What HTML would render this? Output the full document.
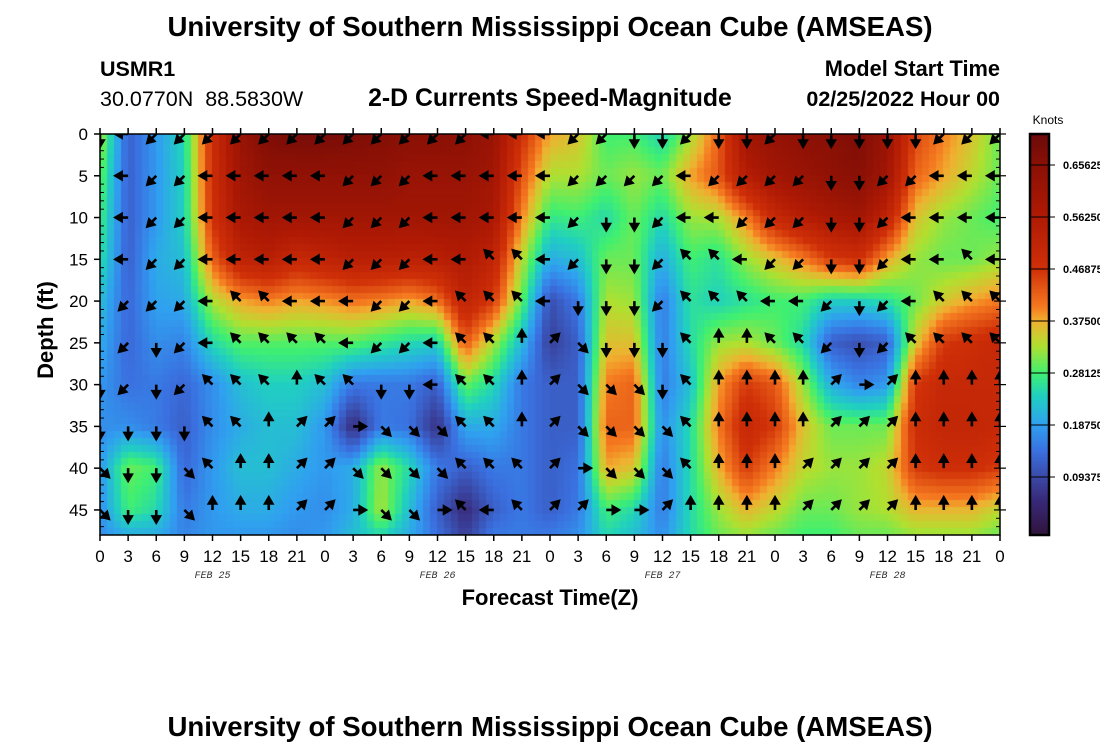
<!DOCTYPE html>
<html><head><meta charset="utf-8"><style>
body{margin:0;background:#fff;width:1100px;height:750px;overflow:hidden;font-family:"Liberation Sans",sans-serif}
svg{position:absolute;left:0;top:0}
canvas{position:absolute;left:0;top:0}
</style></head><body>
<canvas id="cv" width="1100" height="750"></canvas>
<svg id="sv" width="1100" height="750">
<text x="550" y="36" text-anchor="middle" font-size="27.6" font-weight="bold">University of Southern Mississippi Ocean Cube (AMSEAS)</text>
<text x="100" y="76" font-size="21.5" font-weight="bold">USMR1</text>
<text x="100" y="106" font-size="21.5">30.0770N&#160;&#160;88.5830W</text>
<text x="550" y="106" text-anchor="middle" font-size="24.8" font-weight="bold">2-D Currents Speed-Magnitude</text>
<text x="1000" y="76" text-anchor="end" font-size="21.8" font-weight="bold">Model Start Time</text>
<text x="1000" y="106" text-anchor="end" font-size="21.5" font-weight="bold">02/25/2022 Hour 00</text>
<text x="550" y="736" text-anchor="middle" font-size="27.6" font-weight="bold">University of Southern Mississippi Ocean Cube (AMSEAS)</text>
<text x="550" y="605" text-anchor="middle" font-size="22" font-weight="bold">Forecast Time(Z)</text>
<text transform="translate(53,330) rotate(-90)" text-anchor="middle" font-size="22" font-weight="bold">Depth (ft)</text>
<text x="1048" y="124" text-anchor="middle" font-size="12">Knots</text>
<defs><clipPath id="pc"><rect x="100" y="134" width="900" height="401"/></clipPath></defs>
<g id="arrows" clip-path="url(#pc)"></g>
<g id="axes"></g>
</svg>
<script>
const depths=[0,5,10,15,20,25,30,35,40,45,48];
const hours=[0,3,6,9,12,15,18,21,24,27,30,33,36,39,42,45,48,51,54,57,60,63,66,69,72,75,78,81,84,87,90,93,96];
const hourLabels=["0","3","6","9","12","15","18","21"];
const dayLabels=["FEB 25","FEB 26","FEB 27","FEB 28"];
const colorTicks=[0.09375,0.1875,0.28125,0.375,0.46875,0.5625,0.65625];
const speedD0=[.33,.12,.18,.25,.48,.62,.68,.69,.69,.68,.67,.66,.66,.65,.62,.48,.38,.36,.28,.28,.24,.32,.42,.6,.63,.65,.66,.68,.62,.45,.4,.36,.3];
const speedD5=[.3,.12,.18,.24,.48,.6,.64,.64,.64,.64,.64,.62,.62,.62,.6,.44,.33,.33,.3,.32,.3,.38,.43,.55,.6,.62,.64,.66,.6,.42,.38,.34,.3];
const speedD10=[.28,.12,.18,.24,.47,.58,.6,.6,.6,.6,.6,.6,.6,.6,.58,.4,.27,.28,.25,.3,.25,.32,.33,.4,.5,.55,.58,.6,.52,.36,.32,.3,.28];
const speedD15=[.26,.12,.2,.22,.42,.52,.54,.5,.52,.54,.54,.53,.54,.56,.52,.34,.2,.22,.3,.3,.2,.28,.26,.32,.36,.4,.46,.48,.38,.32,.3,.3,.32];
const speedD20=[.22,.13,.19,.2,.33,.38,.4,.38,.39,.41,.4,.38,.41,.52,.46,.3,.1,.15,.33,.32,.15,.26,.24,.26,.28,.28,.24,.24,.26,.3,.35,.38,.4];
const speedD25=[.2,.13,.17,.16,.25,.29,.29,.29,.29,.29,.27,.25,.24,.43,.33,.22,.08,.12,.36,.36,.15,.25,.32,.33,.3,.25,.12,.1,.12,.35,.46,.48,.5];
const speedD30=[.18,.14,.15,.13,.17,.22,.24,.24,.22,.15,.15,.15,.12,.3,.25,.15,.12,.12,.4,.42,.15,.22,.38,.46,.43,.32,.2,.16,.18,.46,.5,.5,.5];
const speedD35=[.17,.17,.15,.12,.17,.2,.22,.22,.18,.05,.15,.14,.06,.2,.2,.15,.12,.12,.42,.42,.17,.25,.4,.5,.46,.36,.3,.3,.3,.48,.51,.51,.5];
const speedD40=[.18,.3,.28,.13,.18,.22,.22,.2,.18,.2,.32,.25,.15,.12,.15,.15,.12,.14,.38,.36,.15,.25,.37,.46,.4,.34,.32,.32,.34,.46,.48,.48,.46];
const speedD45=[.17,.28,.25,.15,.18,.2,.2,.18,.17,.2,.33,.22,.12,.05,.12,.15,.12,.15,.28,.25,.15,.25,.32,.37,.34,.3,.3,.32,.33,.37,.37,.37,.34];
const speedD48=[.17,.2,.2,.16,.18,.18,.18,.17,.18,.22,.25,.2,.14,.08,.15,.15,.15,.17,.25,.22,.17,.25,.3,.32,.3,.28,.28,.3,.3,.32,.32,.32,.3];
const arrowDepths=[0,5,10,15,20,25,30,35,40,45];
const dirD0="S W SW SW SW SW SW SW SW SW SW SW SW SW W W W SW SW S S SW S S SW S S S S S SW SW SW".split(" ");
const dirD5="W W SW SW W W W W W SW SW SW W W W W W SW SW SW SW W SW SW SW SW S S SW SW W W W".split(" ");
const dirD10="W W SW SW W W W W W SW SW SW W W W W W SW S S SW W W SW SW SW S S SW W W W W".split(" ");
const dirD15="W W SW SW W W W W W SW SW SW W W NW NW W SW S S SW NW NW W SW SW S S SW W W NW W".split(" ");
const dirD20="SW SW SW SW W NW NW W W W SW SW W NW NW NW W S S S SW NW NW NW W W SW S SW W NW NW NW".split(" ");
const dirD25="SW SW S SW W NW NW NW NW W SW SW W NW NW N NE SE S S S NW N N NW NW SW S SW NW NW NW NW".split(" ");
const dirD30="S SW S SW NW NW NW N NW NW S S W NW NW N NE SE SE SE S NW N N N N NE E NE N N N N".split(" ");
const dirD35="S S S S NW NW N NE NE E SE SE SE NW NW N NE SE SE SE SE NW N N N N NE NE NE N N N N".split(" ");
const dirD40="SE S S SE NW N N NE NE SE SE SE SE NW NW NW NE E SE SE SE NW N N N NE NE NE NE N N N N".split(" ");
const dirD45="SE S S SE N N N NE NE E SE SE E NW W NW NE NE E E NE N N N N NE NE NE NE N N N N".split(" ");

const speedRows=[speedD0,speedD5,speedD10,speedD15,speedD20,speedD25,speedD30,speedD35,speedD40,speedD45,speedD48];
const dirRows=[dirD0,dirD5,dirD10,dirD15,dirD20,dirD25,dirD30,dirD35,dirD40,dirD45];
const X0=100,X1=1000,Y0=134,Y1=535,DMAX=48,HMAX=96;
function xs(h){return X0+(X1-X0)*h/HMAX;}
function ys(d){return Y0+(Y1-Y0)*d/DMAX;}
function cy(v){return 529-v*554.7;}
const stopV=[-0.011,0.05,0.09375,0.14,0.1875,0.24,0.28125,0.33,0.375,0.40,0.46875,0.5625,0.65625,0.714];
const stopC=[[48,20,60],[56,40,120],[58,74,168],[58,112,224],[48,160,240],[32,208,192],[64,240,112],[176,224,48],[240,176,48],[245,122,32],[208,48,8],[176,26,4],[138,16,5],[106,10,10]];
function col(v){v=Math.max(stopV[0],Math.min(stopV[stopV.length-1],v));
 let i=0;while(i<stopV.length-2&&v>stopV[i+1])i++;
 const f=(v-stopV[i])/(stopV[i+1]-stopV[i]);const a=stopC[i],b=stopC[i+1];
 return `rgb(${Math.round(a[0]+(b[0]-a[0])*f)},${Math.round(a[1]+(b[1]-a[1])*f)},${Math.round(a[2]+(b[2]-a[2])*f)})`;}
function idx(arr,v){for(let i=0;i<arr.length-1;i++){if(v<=arr[i+1])return [i,(v-arr[i])/(arr[i+1]-arr[i])];}return [arr.length-2,1];}
function sample(h,d){const [i,fi]=idx(hours,h),[j,fj]=idx(depths,d);
 const a=speedRows[j][i],b=speedRows[j][i+1],c=speedRows[j+1][i],e=speedRows[j+1][i+1];
 return (a*(1-fi)+b*fi)*(1-fj)+(c*(1-fi)+e*fi)*fj;}
const ctx=document.getElementById('cv').getContext('2d');
const nx=128,ny=58;
for(let i=0;i<nx;i++)for(let j=0;j<ny;j++){
 const h=(i+0.5)/nx*HMAX,d=(j+0.5)/ny*DMAX;
 ctx.fillStyle=col(sample(h,d));
 const xa=Math.floor(xs(i/nx*HMAX)),xb=Math.ceil(xs((i+1)/nx*HMAX));
 const ya=Math.floor(ys(j/ny*DMAX)),yb=Math.ceil(ys((j+1)/ny*DMAX));
 ctx.fillRect(xa,ya,xb-xa,yb-ya);}
for(let y=134;y<535;y++){ctx.fillStyle=col((529-y-0.5)/554.7);ctx.fillRect(1030,y,19,1);}
const NS="http://www.w3.org/2000/svg";
function mk(tag,attrs,parent){const e=document.createElementNS(NS,tag);for(const k in attrs)e.setAttribute(k,attrs[k]);parent.appendChild(e);return e;}
const ang={N:0,NE:45,E:90,SE:135,S:180,SW:225,W:270,NW:315};
const ag=document.getElementById('arrows');
dirRows.forEach((row,j)=>{row.forEach((dname,i)=>{
 const p=mk('path',{d:"M0,0 L0,-7 M-3.5,-6.5 L0,-12.5 L3.5,-6.5 Z",stroke:"#000","stroke-width":"2.6",fill:"#000","stroke-linejoin":"miter",
  transform:`translate(${xs(hours[i])},${ys(arrowDepths[j])}) rotate(${ang[dname]})`},ag);
 
 
});});
const ax=document.getElementById('axes');
const frame=mk('rect',{x:X0,y:Y0,width:X1-X0,height:Y1-Y0,fill:"none",stroke:"#000","stroke-width":"1.5"},ax);


hours.forEach((h,i)=>{const x=xs(h);
 mk('line',{x1:x,x2:x,y1:Y1,y2:Y1+6,stroke:"#000","stroke-width":"1.5"},ax);
 mk('line',{x1:x,x2:x,y1:Y0,y2:Y0-6,stroke:"#000","stroke-width":"1.5"},ax);
 const t=mk('text',{x:x,y:562,"text-anchor":"middle","font-size":"17"},ax);
 t.textContent=hourLabels[i%8];
 
 });
dayLabels.forEach((s,i)=>{const t=mk('text',{x:xs(12+24*i),y:578,"text-anchor":"middle","font-size":"10","font-style":"italic","font-family":"Liberation Mono, monospace",fill:"#333"},ax);
 t.textContent=s;
 
 });
for(let d=0;d<=DMAX;d++){const y=ys(d);
 if(d%5===0){mk('line',{x1:X0-6,x2:X0,y1:y,y2:y,stroke:"#000","stroke-width":"1.5"},ax);
  mk('line',{x1:X1-6,x2:X1+6,y1:y,y2:y,stroke:"#000","stroke-width":"1.2"},ax);
  const t=mk('text',{x:X0-12,y:y+6,"text-anchor":"end","font-size":"17"},ax);t.textContent=d;
  
  }
 else{mk('line',{x1:X0,x2:X0+4,y1:y,y2:y,stroke:"#000","stroke-width":"1"},ax);
  mk('line',{x1:X1-4,x2:X1,y1:y,y2:y,stroke:"#000","stroke-width":"1"},ax);}}
const cb=mk('rect',{x:1030,y:134,width:19,height:401,fill:"none",stroke:"#000","stroke-width":"2.5"},ax);


colorTicks.forEach(v=>{const y=cy(v);
 mk('line',{x1:1030,x2:1055,y1:y,y2:y,stroke:"#000","stroke-width":"1"},ax);
 const t=mk('text',{x:1063,y:y+4,"font-size":"11","font-weight":"bold"},ax);t.textContent=v.toFixed(5);
 
 });
</script>
</body></html>
